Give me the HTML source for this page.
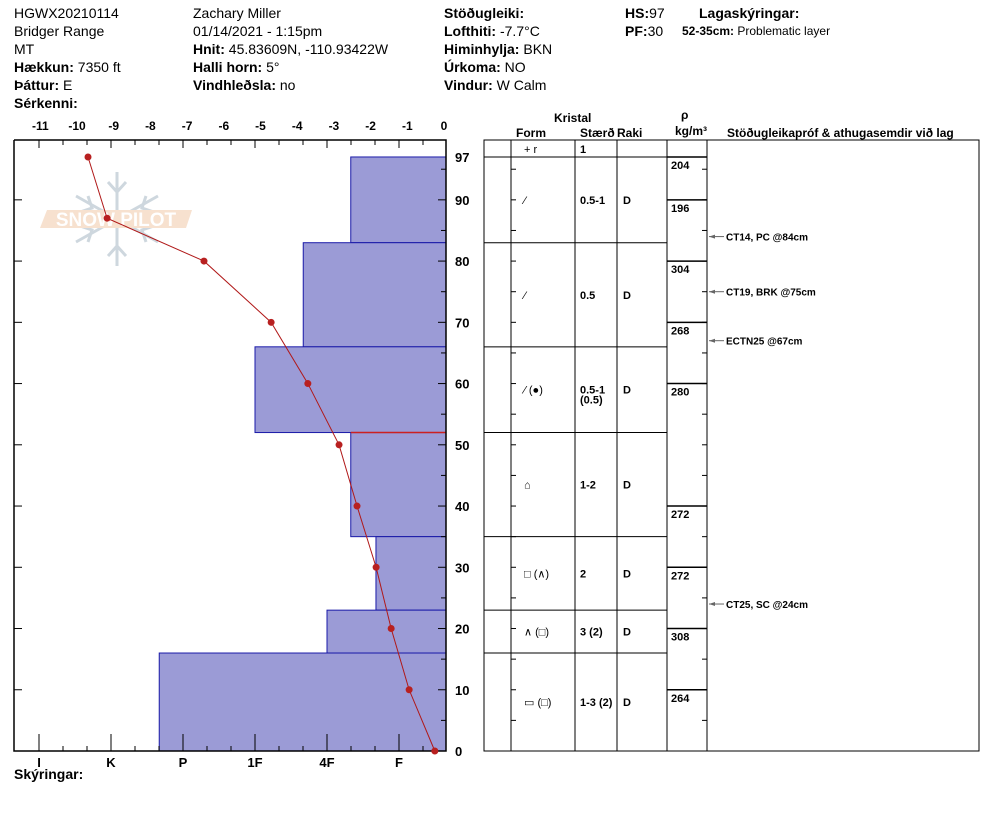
<!DOCTYPE html>
<html><head><meta charset="utf-8"><style>
body{margin:0;background:#fff;}
svg{display:block;font-family:"Liberation Sans",Arial,sans-serif;}
.h{font-size:14px;fill:#000}
.b{font-weight:bold}
.s{font-size:11px;font-weight:bold}
</style></head><body>
<svg id="c" width="994" height="840" viewBox="0 0 994 840" xmlns="http://www.w3.org/2000/svg">
<g>
<text class="h" x="14" y="18">HGWX20210114</text>
<text class="h" x="14" y="36">Bridger Range</text>
<text class="h" x="14" y="54">MT</text>
<text class="h" x="14" y="72"><tspan class="b">Hækkun:</tspan> 7350 ft</text>
<text class="h" x="14" y="90"><tspan class="b">Þáttur:</tspan> E</text>
<text class="h b" x="14" y="108">Sérkenni:</text>
<text class="h" x="193" y="18">Zachary Miller</text>
<text class="h" x="193" y="36">01/14/2021 - 1:15pm</text>
<text class="h" x="193" y="54"><tspan class="b">Hnit:</tspan> 45.83609N, -110.93422W</text>
<text class="h" x="193" y="72"><tspan class="b">Halli horn:</tspan> 5°</text>
<text class="h" x="193" y="90"><tspan class="b">Vindhleðsla:</tspan> no</text>
<text class="h b" x="444" y="18">Stöðugleiki:</text>
<text class="h" x="444" y="36"><tspan class="b">Lofthiti:</tspan> -7.7°C</text>
<text class="h" x="444" y="54"><tspan class="b">Himinhylja:</tspan> BKN</text>
<text class="h" x="444" y="72"><tspan class="b">Úrkoma:</tspan> NO</text>
<text class="h" x="444" y="90"><tspan class="b">Vindur:</tspan>  W Calm</text>
<text class="h" x="625" y="18"><tspan class="b">HS:</tspan>97</text>
<text class="h" x="625" y="36"><tspan class="b">PF:</tspan>30</text>
<text class="h b" x="699" y="18">Lagaskýringar:</text>
<text x="682" y="35" style="font-size:12px"><tspan class="b">52-35cm:</tspan> Problematic layer</text>
</g>
<g opacity="0.5">
<g stroke="#9fb1bf" stroke-width="3" fill="none">
<line x1="117" y1="172" x2="117" y2="266"/><line x1="76" y1="196" x2="158" y2="242"/><line x1="76" y1="242" x2="158" y2="196"/>
<polyline points="108,182 117,192 126,182"/><polyline points="108,256 117,246 126,256"/>
<polyline points="80,212 92,208 88,196"/><polyline points="154,226 142,230 146,242"/>
<polyline points="80,226 92,230 88,242"/><polyline points="154,212 142,208 146,196"/>
</g>
<polygon points="47,210 192,210 186,228 40,228" fill="#f0c4a0"/>
<text x="116" y="226" text-anchor="middle" style="font-size:19px;fill:#fff;font-weight:bold">SNOW PILOT</text>
</g>
<g id="plot"></g>
<text class="h b" x="14" y="779">Skýringar:</text>
</svg>
<script>
// ---- data ----
const tempDepths=[97,87,80,70,60,50,40,30,20,10,0];
const temps=[-9.7,-9.18,-6.54,-4.71,-3.71,-2.86,-2.37,-1.85,-1.44,-0.95,-0.25];
const layerTops=[97,83,66,52,35,23,16];
const layerBottoms=[83,66,52,35,23,16,0];
const layerHardness=[1.67,2.33,3.0,1.67,1.32,2.0,4.33];
const hardLabels=["I","K","P","1F","4F","F"];
const hardLabelVals=[6,5,4,3,2,1];
const tempTicks=[-11,-10,-9,-8,-7,-6,-5,-4,-3,-2,-1,0];
const depthTicks=[97,90,80,70,60,50,40,30,20,10,0];
const forms=["+ r","⁄","⁄","⁄ (●)","⌂","□ (∧)","∧ (□)","▭ (□)"];
const sizes=["1","0.5-1","0.5","0.5-1|(0.5)","1-2","2","3 (2)","1-3 (2)"];
const moist=["","D","D","D","D","D","D","D"];
const densDepth=[97,90,80,70,60,40,30,20,10];
const densVals=[204,196,304,268,280,272,272,308,264];
const testDepths=[84,75,67,24];
const testText=["CT14, PC @84cm","CT19, BRK @75cm","ECTN25 @67cm","CT25, SC @24cm"];
// ---- scales ----
const X0=14,X1=446,Y0=140,Y1=751;
const y=d=>751-d*6.124;
const xt=t=>444+36.7*t;
const xh=h=>471-72*h;
const NS="http://www.w3.org/2000/svg";
const g=document.getElementById('plot');
function mk(tag,at,parent){const e=document.createElementNS(NS,tag);for(const k in at)e.setAttribute(k,at[k]);(parent||g).appendChild(e);return e;}
// bars
layerTops.forEach((t,i)=>{
 const r=mk('rect',{x:xh(layerHardness[i]),y:y(t),width:X1-xh(layerHardness[i]),height:y(layerBottoms[i])-y(t),fill:'#9b9bd6',stroke:'#1a1aa8','stroke-width':1});
 
 
});
const pl=mk('line',{x1:xh(1.67),x2:X1,y1:y(52),y2:y(52),stroke:'#cc2020','stroke-width':1.5});


// frame
mk('polyline',{points:`${X0},${Y0} ${X0},${Y1} ${X1},${Y1} ${X1},${Y0} ${X0},${Y0}`,fill:'none',stroke:'#000','stroke-width':1.5});
// axis ticks (top and bottom share pattern: long at hardness, short every 24px)
for(let k=0;k<=17;k++){const xx=xh(6)+24*k;if(xx>X1)break;const big=k%3===0;
 mk('line',{x1:xx,x2:xx,y1:Y0,y2:Y0+(big?8:5),stroke:'#000'});
 mk('line',{x1:xx,x2:xx,y1:Y1,y2:Y1-(big?17:5),stroke:'#000'});}
tempTicks.forEach(t=>{const e=mk('text',{x:xt(t),y:130,'text-anchor':'middle',style:'font-size:12px;font-weight:bold'});e.textContent=String(t);
 
 });
hardLabels.forEach((l,i)=>{const e=mk('text',{x:xh(hardLabelVals[i]),y:767,'text-anchor':'middle',style:'font-size:13px;font-weight:bold'});e.textContent=l;
 
 });
// depth ticks
for(let d=5;d<=95;d+=5){const big=d%10===0;mk('line',{x1:X1,x2:X1-(big?8:5),y1:y(d),y2:y(d),stroke:'#000'});if(big)mk('line',{x1:X0,x2:X0+8,y1:y(d),y2:y(d),stroke:'#000'});}
depthTicks.forEach(d=>{const e=mk('text',{x:455,y:y(d)+5,style:'font-size:13px;font-weight:bold'});e.textContent=String(d);
 
 });
// temperature line
const tl=mk('polyline',{points:temps.map((t,i)=>xt(t)+','+y(tempDepths[i])).join(' '),fill:'none',stroke:'#b01818','stroke-width':1});


temps.forEach((t,i)=>{const c=mk('circle',{cx:xt(t),cy:y(tempDepths[i]),r:3.5,fill:'#b82020'});
 
 });
// table
const T=mk('g',{});


mk('rect',{x:484,y:140,width:495,height:611,fill:'none',stroke:'#000','stroke-width':1},T);
[511,575,617,667,707].forEach(c=>mk('line',{x1:c,x2:c,y1:140,y2:751,stroke:'#000'},T));
const rt=[140].concat(layerTops.map(y)), rb=[157].concat(layerBottoms.map(y));
rt.forEach((t,i)=>{if(i>0)mk('line',{x1:484,x2:667,y1:t,y2:t,stroke:'#000'},T);});
mk('line',{x1:484,x2:707,y1:157,y2:157,stroke:'#000'},T);
for(let d=5;d<=95;d+=5){mk('line',{x1:511,x2:516,y1:y(d),y2:y(d),stroke:'#000'},T);mk('line',{x1:707,x2:702,y1:y(d),y2:y(d),stroke:'#000'},T);}
forms.forEach((f,i)=>{const mid=(rt[i]+rb[i])/2+4;const cy=i===0?153:mid;
 const a=mk('text',{x:524,y:cy,style:'font-size:11px'},T);a.textContent=f;
 const sz=sizes[i].split('|');sz.forEach((s,j)=>{const b=mk('text',{x:580,y:cy+j*10,class:'s'},T);b.textContent=s;});
 const m=mk('text',{x:623,y:cy,class:'s'},T);m.textContent=moist[i];});
densVals.forEach((v,i)=>{const yy=y(densDepth[i]);mk('line',{x1:667,x2:707,y1:yy,y2:yy,stroke:'#000','stroke-width':1.5},T);
 const e=mk('text',{x:671,y:yy+12,class:'s'},T);e.textContent=String(v);
 
 });
testDepths.forEach((d,i)=>{const yy=y(d);mk('line',{x1:709,x2:724,y1:yy,y2:yy,stroke:'#666'},T);mk('polygon',{points:`709,${yy} 715,${yy-2} 715,${yy+2}`,fill:'#666'},T);
 const e=mk('text',{x:726,y:yy+4,style:'font-size:10px;font-weight:bold'},T);e.textContent=testText[i];
 
 });
// table headers
[["Kristal",554,122],["Form",516,137],["Stærð",580,137],["Raki",617,137],["ρ",681,119],["kg/m³",675,135],["Stöðugleikapróf & athugasemdir við lag",727,137]].forEach(h=>{
 const e=mk('text',{x:h[1],y:h[2],style:'font-size:12px;font-weight:bold'});e.textContent=h[0];
 
 });
</script>
</body></html>
